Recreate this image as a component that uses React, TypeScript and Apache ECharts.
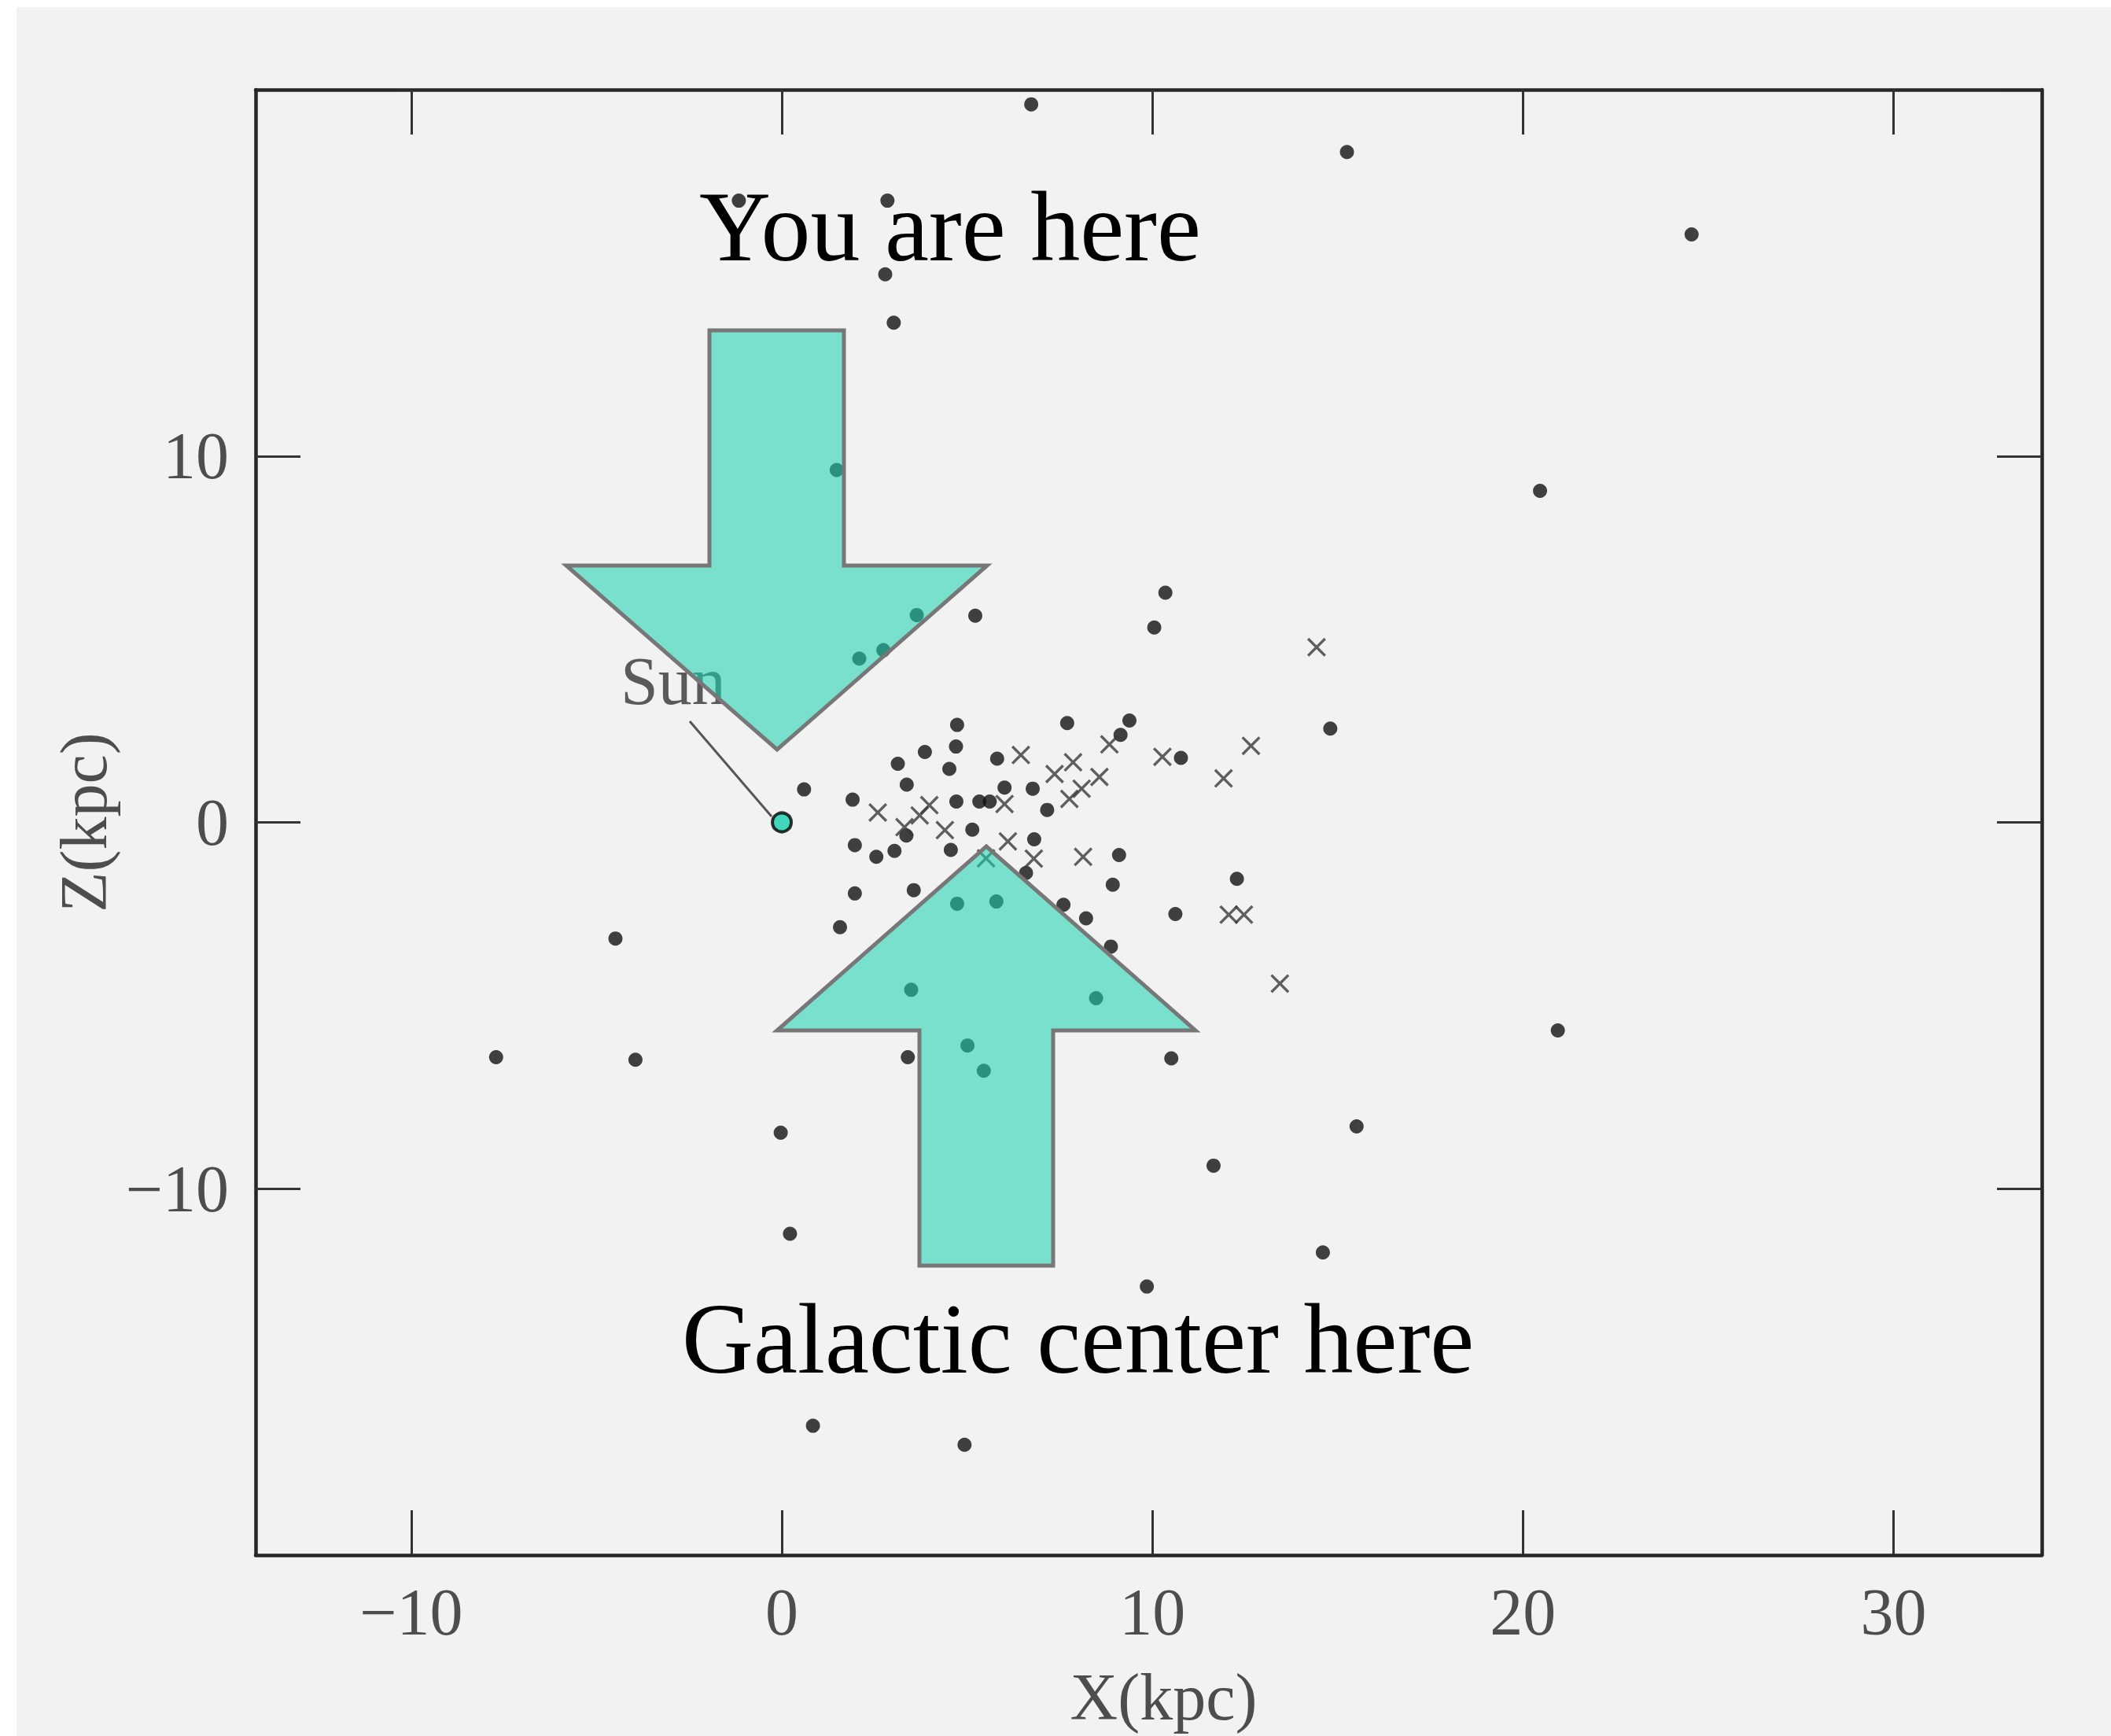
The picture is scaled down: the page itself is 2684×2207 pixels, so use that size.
import React, { useEffect, useRef } from "react";
import * as echarts from "echarts";

// Tick values
const xTickValues = [-10, 0, 10, 20, 30];
const zTickValues = [-10, 0, 10];

// The Sun's position (kpc)
const sunPoint = [[0, 0]];

// Globular clusters drawn as filled dots: [X (kpc), Z (kpc)]
const clusterDots = [
  [6.73, 19.6], [15.25, 18.3], [24.55, 16.05], [-1.16, 16.97], [2.85, 16.97],
  [2.79, 14.96], [3.02, 13.64], [20.46, 9.05], [1.48, 9.62], [10.35, 6.27],
  [10.05, 5.32], [3.64, 5.66], [5.22, 5.64], [2.74, 4.7], [2.09, 4.47],
  [4.73, 2.66], [7.7, 2.71], [9.38, 2.78], [9.14, 2.39], [14.8, 2.56],
  [3.86, 1.92], [4.7, 2.07], [3.13, 1.6], [4.52, 1.46], [5.81, 1.74],
  [10.77, 1.76], [3.37, 1.03], [0.6, 0.9], [1.91, 0.62], [4.71, 0.57],
  [5.33, 0.57], [5.61, 0.57], [6.01, 0.95], [6.77, 0.92], [7.16, 0.34],
  [3.36, -0.36], [5.14, -0.2], [1.97, -0.62], [2.55, -0.94], [3.04, -0.78],
  [4.56, -0.75], [6.81, -0.46], [9.1, -0.89], [6.59, -1.38], [8.93, -1.7],
  [12.28, -1.54], [1.97, -1.94], [3.56, -1.85], [4.73, -2.22], [5.79, -2.16],
  [7.6, -2.25], [8.21, -2.62], [10.62, -2.5], [1.57, -2.86], [8.88, -3.39],
  [3.49, -4.57], [8.48, -4.8], [5.01, -6.09], [5.45, -6.78], [10.51, -6.44],
  [3.4, -6.41], [-4.49, -3.17], [-7.71, -6.41], [-3.95, -6.48], [-0.03, -8.47],
  [0.22, -11.23], [0.84, -16.47], [4.93, -16.99], [20.94, -5.68], [15.51, -8.3],
  [11.65, -9.37], [14.6, -11.74], [9.85, -12.67],
];

// Globular clusters drawn as crosses: [X (kpc), Z (kpc)]
const clusterCrosses = [
  [6.45, 1.84], [7.86, 1.64], [7.36, 1.32], [8.84, 2.13], [8.57, 1.24],
  [8.09, 0.92], [7.76, 0.64], [10.27, 1.79], [12.66, 2.09], [11.92, 1.2],
  [6.01, 0.5], [2.59, 0.27], [3.98, 0.47], [3.72, 0.19], [3.31, -0.13],
  [4.4, -0.21], [6.1, -0.52], [6.8, -0.99], [8.13, -0.94], [5.51, -0.98],
  [12.06, -2.52], [12.47, -2.52], [13.44, -4.4], [14.43, 4.78],
];

const SERIF = "'Liberation Serif', 'Times New Roman', serif";
const CROSS_PATH =
  "path://M0,1L1,0L5,4L9,0L10,1L6,5L10,9L9,10L5,6L1,10L0,9L4,5Z";

const minusFmt = (v: number) => String(v).replace("-", "\u2212");

export default function App() {
  const ref = useRef<HTMLDivElement>(null);

  useEffect(() => {
    const chart = echarts.init(ref.current!, null, { renderer: "svg" });

    const axisLine = {
      show: true,
      onZero: false,
      lineStyle: { color: "#262626", width: 4.5 },
    };
    const tickStyle = { color: "#333", width: 3 };
    const labelStyle = {
      fontSize: 84,
      fontFamily: SERIF,
      color: "#4d4d4d",
      formatter: minusFmt,
    };

    const option: any = {
      animation: false,
      backgroundColor: "#f2f2f2",
      grid: {
        left: 325,
        right: 88,
        top: 114,
        bottom: 230,
        containLabel: false,
        outerBoundsMode: "none",
      },
      xAxis: [
        {
          type: "value",
          position: "bottom",
          min: -14.2,
          max: 34,
          axisLine,
          axisTick: {
            show: true,
            inside: true,
            length: 57,
            customValues: xTickValues,
            lineStyle: tickStyle,
          },
          axisLabel: { ...labelStyle, customValues: xTickValues, margin: 30 },
          splitLine: { show: false },
          name: "X(kpc)",
          nameLocation: "middle",
          nameGap: 138,
          nameTextStyle: {
            fontSize: 84,
            fontFamily: SERIF,
            color: "#4d4d4d",
            padding: [0, 0, 0, 38],
          },
        },
        {
          type: "value",
          position: "top",
          min: -14.2,
          max: 34,
          axisLine,
          axisTick: {
            show: true,
            inside: true,
            length: 57,
            customValues: xTickValues,
            lineStyle: tickStyle,
          },
          axisLabel: { show: false },
          splitLine: { show: false },
        },
      ],
      yAxis: [
        {
          type: "value",
          position: "left",
          min: -20,
          max: 20,
          axisLine,
          axisTick: {
            show: true,
            inside: true,
            length: 57,
            customValues: zTickValues,
            lineStyle: tickStyle,
          },
          axisLabel: { ...labelStyle, customValues: zTickValues, margin: 34 },
          splitLine: { show: false },
          name: "Z(kpc)",
          nameLocation: "middle",
          nameGap: 122,
          nameRotate: 90,
          nameTextStyle: { fontSize: 84, fontFamily: SERIF, color: "#4d4d4d" },
        },
        {
          type: "value",
          position: "right",
          min: -20,
          max: 20,
          axisLine,
          axisTick: {
            show: true,
            inside: true,
            length: 57,
            customValues: zTickValues,
            lineStyle: tickStyle,
          },
          axisLabel: { show: false },
          splitLine: { show: false },
        },
      ],
      series: [
        {
          type: "scatter",
          name: "clusters",
          data: clusterDots,
          symbol: "circle",
          symbolSize: 18,
          itemStyle: { color: "#121212" },
          silent: true,
          z: 2,
        },
        {
          type: "scatter",
          name: "clusters (x)",
          data: clusterCrosses,
          symbol: CROSS_PATH,
          symbolSize: 24,
          itemStyle: { color: "#383838" },
          silent: true,
          z: 2,
        },
        {
          type: "scatter",
          name: "Sun",
          data: sunPoint,
          symbol: "circle",
          symbolSize: 24,
          itemStyle: { color: "#14d0ab", borderColor: "#000", borderWidth: 4 },
          silent: true,
          z: 3,
        },
      ],
      graphic: [
        { type: "rect", shape: { x: 0, y: 0, width: 21, height: 2207 }, style: { fill: "#ffffff" }, z: -1, silent: true },
        { type: "rect", shape: { x: 0, y: 0, width: 2684, height: 9 }, style: { fill: "#ffffff" }, z: -1, silent: true },
        {
          type: "line",
          shape: { x1: 877, y1: 917, x2: 981, y2: 1038 },
          style: { stroke: "#555", lineWidth: 3 },
          z: 5,
          silent: true,
        },
        {
          type: "text",
          x: 789,
          y: 866,
          style: {
            text: "Sun",
            font: `86px ${SERIF}`,
            fill: "#5a5a5a",
            textAlign: "left",
            textVerticalAlign: "middle",
          },
          z: 5,
          silent: true,
        },
        {
          type: "polygon",
          shape: {
            points: [
              [902, 420], [1073, 420], [1073, 719], [1255, 719],
              [988, 953], [720, 719], [902, 719],
            ],
          },
          style: { fill: "rgba(25,211,175,0.56)", stroke: "#777", lineWidth: 5, lineJoin: "miter" },
          z: 10,
          silent: true,
        },
        {
          type: "polygon",
          shape: {
            points: [
              [1254, 1076], [1520, 1310], [1339, 1310], [1339, 1609],
              [1169, 1609], [1169, 1310], [988, 1310],
            ],
          },
          style: { fill: "rgba(25,211,175,0.56)", stroke: "#777", lineWidth: 5, lineJoin: "miter" },
          z: 10,
          silent: true,
        },
        {
          type: "text",
          x: 889,
          y: 288,
          style: {
            text: "You are here",
            font: `126px ${SERIF}`,
            fill: "#000",
            textAlign: "left",
            textVerticalAlign: "middle",
          },
          z: 20,
          silent: true,
        },
        {
          type: "text",
          x: 867,
          y: 1702,
          style: {
            text: "Galactic center here",
            font: `126px ${SERIF}`,
            fill: "#000",
            textAlign: "left",
            textVerticalAlign: "middle",
          },
          z: 20,
          silent: true,
        },
      ],
    };

    chart.setOption(option);
    return () => chart.dispose();
  }, []);

  return (
    <div
      ref={ref}
      style={{ position: "fixed", left: 0, top: 0, width: 2684, height: 2207 }}
    />
  );
}
